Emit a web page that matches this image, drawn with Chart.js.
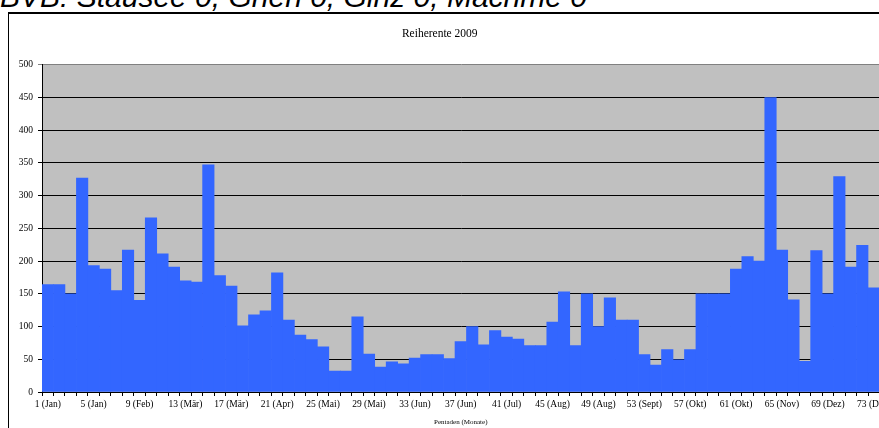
<!DOCTYPE html>
<html>
<head>
<meta charset="utf-8">
<script src="https://cdn.jsdelivr.net/npm/chart.js@4"></script>
<style>
  html, body { margin: 0; padding: 0; background: #fff; overflow: hidden; width: 879px; height: 428px; }
  #head { position: absolute; left: 0; top: -18.5px; font: italic 30px/30px "Liberation Sans", Arial, sans-serif; white-space: nowrap; color: #000; }
  #frame { position: absolute; left: 8px; top: 12px; width: 1000px; height: 1000px; border-left: 1px solid #000; border-top: 2px solid #000; }
  #chart { position: absolute; left: 0; top: 0; }
</style>
</head>
<body>
<div id="head">BVB: Stausee 0, Grien 0, Ginz 0, Machme 0</div>
<div id="frame"></div>
<canvas id="chart" width="900" height="428"></canvas>
<script>
// pentads 1..73 of the year
const pentads = Array.from({length: 73}, (_, i) => String(i + 1));

// labels shown on every 4th pentad
const tickLabels = ["1 (Jan)", "5 (Jan)", "9 (Feb)", "13 (Mär)", "17 (Mär)", "21 (Apr)", "25 (Mai)",
    "29 (Mai)", "33 (Jun)", "37 (Jun)", "41 (Jul)", "45 (Aug)", "49 (Aug)", "53 (Sept)",
    "57 (Okt)", "61 (Okt)", "65 (Nov)", "69 (Dez)", "73 (Dez)"];

// Reiherente counts per pentad
const counts = [164, 164, 150, 327, 193, 188, 155, 217, 140, 266,
    211, 191, 170, 168, 347, 178, 162, 101, 118, 124,
    182, 110, 87, 80, 69, 32, 32, 115, 58, 38,
    46, 43, 52, 57, 57, 51, 77, 100, 72, 94,
    84, 81, 71, 71, 107, 153, 71, 150, 100, 144,
    110, 110, 57, 41, 65, 49, 65, 150, 150, 150,
    188, 207, 200, 450, 217, 141, 47, 216, 150, 329,
    191, 224, 159];

const serif = "'Liberation Serif', 'Times New Roman', serif";
Chart.defaults.color = "#000";
Chart.defaults.font.family = serif;

// grey plot area like the spreadsheet chart
const plotBg = {
    id: "plotBg",
    beforeDraw(chart) {
        const {ctx, chartArea: a} = chart;
        ctx.save();
        ctx.fillStyle = "#c0c0c0";
        ctx.fillRect(a.left, a.top, a.right - a.left, a.bottom - a.top);
        ctx.restore();
    }
};

new Chart(document.getElementById("chart"), {
    type: "bar",
    data: {
        labels: pentads,
        datasets: [{
            label: "Reiherente 2009",
            data: counts,
            backgroundColor: "#3366ff",
            borderWidth: 0,
            barPercentage: 1,
            categoryPercentage: 1
        }]
    },
    options: {
        responsive: false,
        animation: false,
        layout: { padding: { left: 0, right: 20.5, top: 0, bottom: 0 } },
        plugins: {
            legend: { display: false },
            tooltip: { enabled: false },
            title: {
                display: true,
                text: "Reiherente 2009",
                color: "#000",
                font: { family: serif, size: 11.5, weight: "normal" },
                padding: { top: 27, bottom: 24 }
            }
        },
        scales: {
            x: {
                grid: { display: true, drawOnChartArea: false, drawTicks: true, tickLength: 4, color: "#000" },
                border: { display: true, color: "#000" },
                ticks: {
                    autoSkip: false,
                    maxRotation: 0,
                    padding: 3,
                    font: { family: serif, size: 9.5 },
                    callback: (v, i) => i % 4 === 0 ? tickLabels[i / 4] : ""
                },
                title: {
                    display: true,
                    text: "Pentaden (Monate)",
                    font: { family: serif, size: 7 },
                    padding: { top: 0, bottom: 2 }
                },
                afterFit: s => { s.height = 36; }
            },
            y: {
                min: 0,
                max: 500,
                grid: {
                    color: ctx => ctx.tick && ctx.tick.value === 500 ? "#808080" : "#000",
                    drawTicks: true,
                    tickLength: 4
                },
                border: { display: true, color: "#000" },
                ticks: {
                    stepSize: 50,
                    padding: 5,
                    font: { family: serif, size: 9.5 }
                },
                afterFit: s => { s.width = 42; }
            }
        }
    },
    plugins: [plotBg]
});
</script>
</body>
</html>
